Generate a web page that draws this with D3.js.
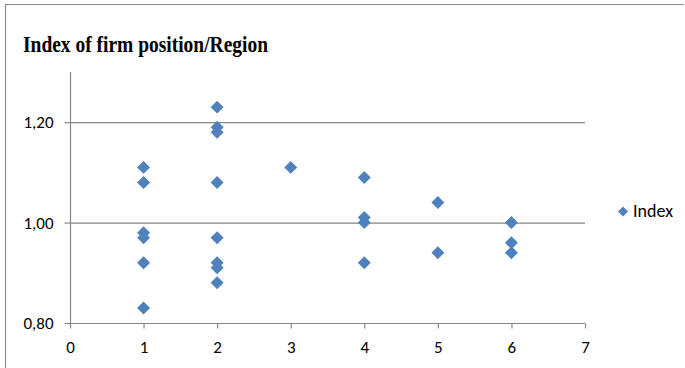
<!DOCTYPE html>
<html>
<head>
<meta charset="utf-8">
<script src="https://cdn.jsdelivr.net/npm/d3@7"></script>
<style>
  html, body { margin: 0; padding: 0; background: #fff; }
  svg { display: block; }
</style>
</head>
<body>
<svg id="chart" width="685" height="368"></svg>
<script>
// Region number of each firm and its position index
const regions = [1, 1, 1, 1, 1, 1,
                 2, 2, 2, 2, 2, 2, 2, 2,
                 3,
                 4, 4, 4, 4,
                 5, 5,
                 6, 6, 6];
const indexValues = [1.11, 1.08, 0.98, 0.97, 0.92, 0.83,
                     1.23, 1.19, 1.18, 1.08, 0.97, 0.92, 0.91, 0.88,
                     1.11,
                     1.09, 1.01, 1.00, 0.92,
                     1.04, 0.94,
                     1.00, 0.96, 0.94];
const xTicks = [0, 1, 2, 3, 4, 5, 6, 7];
const yTicks = [0.80, 1.00, 1.20];
const seriesName = "Index";
const chartTitle = "Index of firm position/Region";

const svg = d3.select("#chart");
const axisColor = "#868686";
const markColor = "#4F81BD";
const labelFont = "Carlito, Calibri, 'Liberation Sans', sans-serif";
const labelSize = 17;

// Outer chart frame (top and left edges)
svg.append("path")
  .attr("d", "M5.5,368 L5.5,4.5 L684,4.5")
  .attr("fill", "none")
  .attr("stroke", "#8c8c8c")
  .attr("stroke-width", 1.2);

const x = d3.scaleLinear().domain([0, 7]).range([70, 585]);
const y = d3.scaleLinear().domain([0.8, 1.3]).range([323, 72]);

// Title (narrow bold serif)
svg.append("text")
  .attr("x", 23)
  .attr("y", 52)
  .attr("font-family", "'Liberation Serif', 'Times New Roman', serif")
  .attr("font-weight", "bold")
  .attr("font-size", 23)
  .attr("textLength", 245)
  .attr("lengthAdjust", "spacingAndGlyphs")
  .attr("fill", "#000")
  .text(chartTitle);

// Horizontal gridlines
svg.append("g")
  .selectAll("line")
  .data(yTicks.filter(v => v > 0.8))
  .join("line")
  .attr("x1", x(0)).attr("x2", x(7))
  .attr("y1", d => y(d) + 0.5).attr("y2", d => y(d) + 0.5)
  .attr("stroke", axisColor)
  .attr("stroke-width", 1.2);

// Y axis
const yAxis = svg.append("g")
  .attr("transform", `translate(${x(0) + 0.5},0)`)
  .call(d3.axisLeft(y).tickValues(yTicks).tickSize(6).tickPadding(11)
    .tickFormat(d => d3.format(".2f")(d).replace(".", ",")));
yAxis.select(".domain").attr("stroke", axisColor).attr("stroke-width", 1.2)
  .attr("d", `M0,${y(1.3)}V${y(0.8)}`);
yAxis.selectAll(".tick line").attr("stroke", axisColor).attr("stroke-width", 1.2);
yAxis.selectAll(".tick text")
  .attr("font-family", labelFont).attr("font-size", labelSize).attr("fill", "#000");

// X axis
const xAxis = svg.append("g")
  .attr("transform", `translate(0,${y(0.8) + 0.5})`)
  .call(d3.axisBottom(x).tickValues(xTicks).tickSize(5).tickPadding(12)
    .tickFormat(d3.format("d")));
xAxis.select(".domain").attr("stroke", axisColor).attr("stroke-width", 1.2)
  .attr("d", `M${x(0)},0H${x(7)}`);
xAxis.selectAll(".tick line").attr("stroke", axisColor).attr("stroke-width", 1.2);
xAxis.selectAll(".tick text")
  .attr("font-family", labelFont).attr("font-size", labelSize).attr("fill", "#000");

// Diamond markers
const diamond = d3.symbol().type(d3.symbolSquare).size(84);
svg.append("g")
  .selectAll("path")
  .data(regions.map((r, i) => ({ r, v: indexValues[i] })))
  .join("path")
  .attr("d", diamond)
  .attr("transform", d => `translate(${x(d.r)},${y(d.v)}) rotate(45)`)
  .attr("fill", markColor);

// Legend
const legend = svg.append("g").attr("transform", "translate(623,211.5)");
legend.append("path")
  .attr("d", d3.symbol().type(d3.symbolSquare).size(50))
  .attr("transform", "rotate(45)")
  .attr("fill", markColor);
legend.append("text")
  .attr("x", 10)
  .attr("y", 5.5)
  .attr("font-family", labelFont)
  .attr("font-size", 18)
  .attr("fill", "#000")
  .text(seriesName);
</script>
</body>
</html>
